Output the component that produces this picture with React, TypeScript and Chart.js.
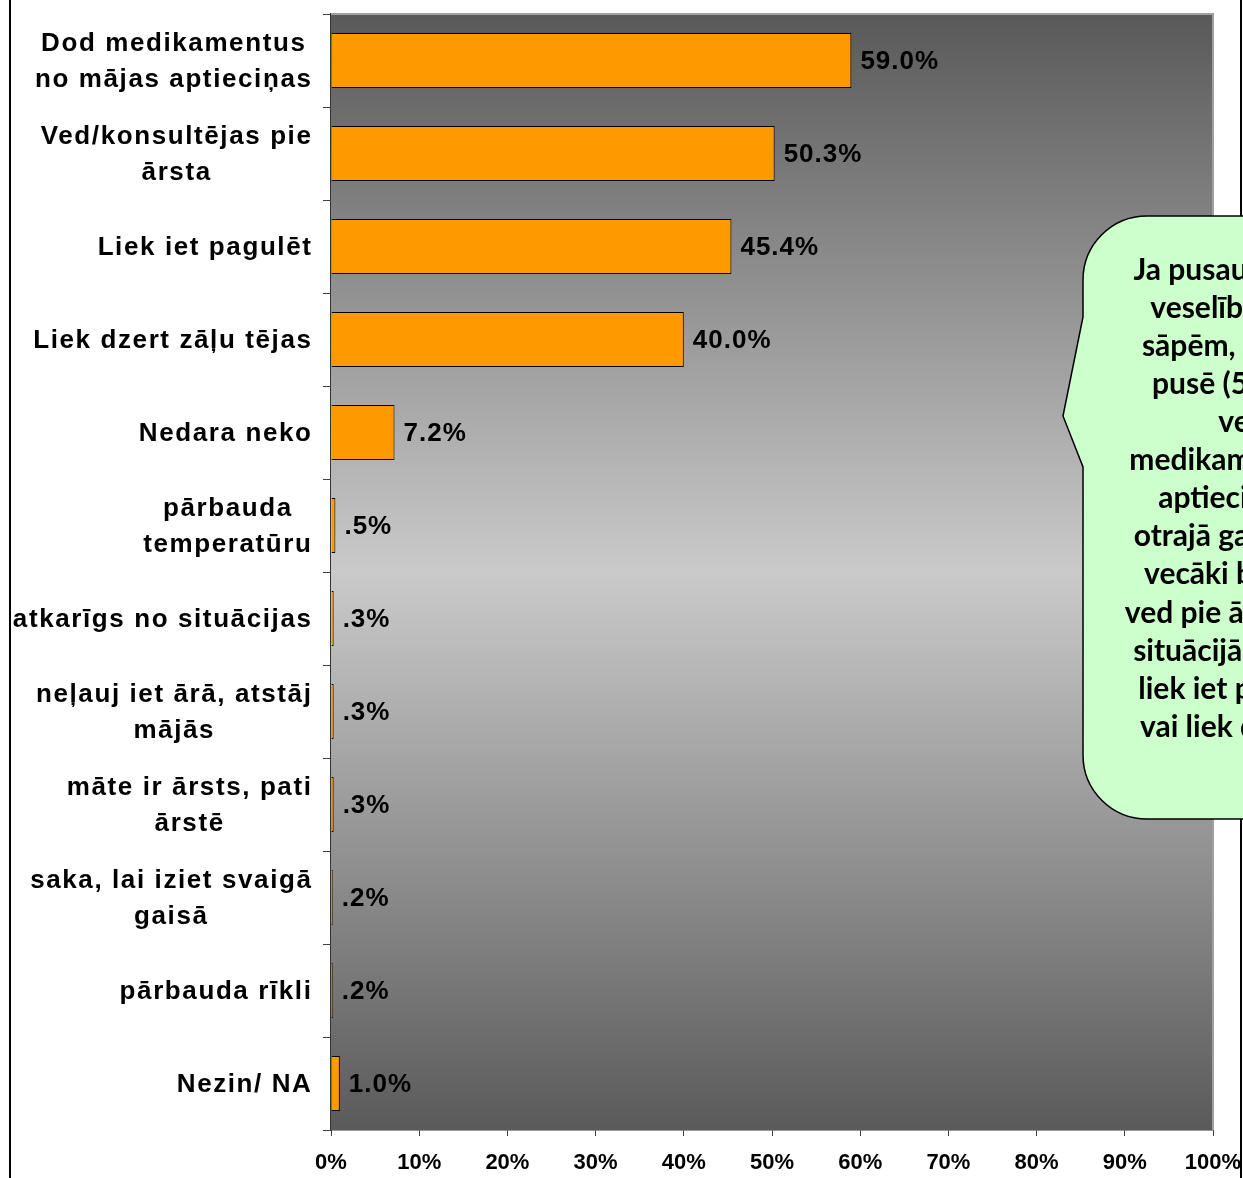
import React, { useEffect, useRef } from "react";
import { Chart, registerables } from "chart.js";

Chart.register(...registerables);

const categories: string[][] = [
  ["Dod medikamentus", "no mājas aptieciņas"],
  ["Ved/konsultējas pie", "ārsta"],
  ["Liek iet pagulēt"],
  ["Liek dzert zāļu tējas"],
  ["Nedara neko"],
  ["pārbauda", "temperatūru"],
  ["atkarīgs no situācijas"],
  ["neļauj iet ārā, atstāj", "mājās"],
  ["māte ir ārsts, pati", "ārstē"],
  ["saka, lai iziet svaigā", "gaisā"],
  ["pārbauda rīkli"],
  ["Nezin/ NA"],
];

const values: number[] = [59.0, 50.3, 45.4, 40.0, 7.2, 0.5, 0.3, 0.3, 0.3, 0.2, 0.2, 1.0];

const xTickLabels: string[] = ["0%", "10%", "20%", "30%", "40%", "50%", "60%", "70%", "80%", "90%", "100%"];

const calloutLines: string[] = [
  "Ja pusaudzis sūdzas par",
  "veselības problēmām",
  "sāpēm, tad vislielākajā",
  "pusē (59%) gadījumu",
  "vecāki dod",
  "medikamentus no mājas",
  "aptieciņas, savukārt",
  "otrajā gadījumā (50,3%)",
  "vecāki bērnu pirmkārt",
  "ved pie ārsta, bet pārējās",
  "situācijās pusaudzim arī",
  "liek iet pagulēt (45,4%)",
  "vai liek dzert zāļu tējas",
];

const LABEL_FONT = 'bold 26px "Liberation Sans", Arial, sans-serif';

const fmt = (v: number) => {
  const s = v.toFixed(1);
  return (v < 1 ? s.replace(/^0/, "") : s) + "%";
};

const bgPlugin = {
  id: "bgPlugin",
  beforeDatasetsDraw(chart: any) {
    const { ctx, chartArea: a } = chart;
    ctx.save();
    const g = ctx.createLinearGradient(0, a.top, 0, a.bottom);
    g.addColorStop(0, "#595959");
    g.addColorStop(0.5, "#cacaca");
    g.addColorStop(1, "#5a5a5a");
    ctx.fillStyle = g;
    ctx.fillRect(a.left, a.top, a.right - a.left, a.bottom - a.top);
    ctx.strokeStyle = "#a0a0a0";
    ctx.lineWidth = 2;
    ctx.beginPath();
    ctx.moveTo(a.left, a.top);
    ctx.lineTo(a.right, a.top);
    ctx.lineTo(a.right, a.bottom);
    ctx.stroke();
    ctx.restore();
  },
};

const labelPlugin = {
  id: "labelPlugin",
  afterDatasetsDraw(chart: any) {
    const { ctx } = chart;
    const yScale = chart.scales.y;
    const meta = chart.getDatasetMeta(0);
    ctx.save();
    ctx.font = LABEL_FONT;
    ctx.fillStyle = "#000";
    ctx.textBaseline = "middle";
    // category labels
    (ctx as any).letterSpacing = "1.6px";
    categories.forEach((lines, i) => {
      const cy = yScale.getPixelForValue(i);
      const lh = 36;
      const widths = lines.map((l) => ctx.measureText(l).width);
      const maxW = Math.max(...widths);
      const right = yScale.right - 18.5;
      const cx = right - maxW / 2;
      ctx.textAlign = "center";
      lines.forEach((l, j) => {
        const y = cy + (j - (lines.length - 1) / 2) * lh + 1;
        ctx.fillText(l, cx, y);
      });
    });
    // value labels
    (ctx as any).letterSpacing = "1px";
    ctx.textAlign = "left";
    meta.data.forEach((el: any, i: number) => {
      ctx.fillText(fmt(values[i]), el.x + 9, el.y + 1);
    });
    ctx.restore();
  },
};

const calloutPlugin = {
  id: "calloutPlugin",
  afterDraw(chart: any) {
    const { ctx, height } = chart;
    ctx.save();
    // outer frame lines
    ctx.strokeStyle = "#000";
    ctx.lineWidth = 2;
    ctx.beginPath();
    ctx.moveTo(10, 0);
    ctx.lineTo(10, height);
    ctx.moveTo(1241, 0);
    ctx.lineTo(1241, height);
    ctx.stroke();

    // callout bubble
    const L = 1083, T = 216, B = 819, R = L + 420, r = 64;
    ctx.beginPath();
    ctx.moveTo(L + r, T);
    ctx.lineTo(R - r, T);
    ctx.arcTo(R, T, R, T + r, r);
    ctx.lineTo(R, B - r);
    ctx.arcTo(R, B, R - r, B, r);
    ctx.lineTo(L + r, B);
    ctx.arcTo(L, B, L, B - r, r);
    ctx.lineTo(L, 467);
    ctx.lineTo(1063, 416);
    ctx.lineTo(L, 317);
    ctx.lineTo(L, T + r);
    ctx.arcTo(L, T, L + r, T, r);
    ctx.closePath();
    ctx.fillStyle = "#CCFFCC";
    ctx.fill();
    ctx.lineWidth = 1.5;
    ctx.strokeStyle = "#000";
    ctx.stroke();

    ctx.fillStyle = "#000";
    ctx.font = 'bold 30px Lato, "Open Sans", sans-serif';
    ctx.textAlign = "center";
    ctx.textBaseline = "middle";
    const cx = 1290;
    calloutLines.forEach((l, i) => {
      ctx.fillText(l, cx, 270 + i * 38.1);
    });
    ctx.restore();
  },
};

export default function App() {
  const ref = useRef<HTMLCanvasElement>(null);
  useEffect(() => {
    const canvas = ref.current!;
    const chart = new Chart(canvas, {
      type: "bar",
      data: {
        labels: categories,
        datasets: [
          {
            data: values,
            backgroundColor: "#FF9900",
            borderColor: "#000",
            borderWidth: 1,
            barPercentage: 0.59,
            categoryPercentage: 1,
          },
        ],
      },
      options: {
        indexAxis: "y",
        responsive: false,
        animation: false,
        devicePixelRatio: 1,
        layout: { padding: { top: 14, right: 30, left: 0, bottom: 0 } },
        plugins: { legend: { display: false }, tooltip: { enabled: false } },
        scales: {
          x: {
            min: 0,
            max: 100,
            ticks: {
              stepSize: 10,
              callback: (_v: any, i: number) => xTickLabels[i],
              font: { family: '"Liberation Sans", Arial, sans-serif', size: 22, weight: "bold" },
              color: "#000",
              padding: 14,
              maxRotation: 0,
              autoSkip: false,
            },
            grid: { drawOnChartArea: false, drawTicks: true, tickLength: 6, color: "#404040" },
            border: { display: true, color: "#333", width: 1.5 },
            afterFit: (s: any) => {
              s.height = 48;
              s.paddingLeft = 0;
              s.paddingRight = 0;
            },
          },
          y: {
            ticks: { display: false },
            grid: { drawOnChartArea: false, drawTicks: true, tickLength: 8, color: "#404040", offset: true },
            border: { display: true, color: "#333", width: 1.5 },
            afterFit: (s: any) => {
              s.width = 331;
              s.paddingTop = 0;
              s.paddingBottom = 0;
            },
          },
        },
      } as any,
      plugins: [bgPlugin, labelPlugin, calloutPlugin],
    });
    return () => chart.destroy();
  }, []);
  return (
    <div style={{ position: "absolute", left: 0, top: 0, width: 1243, height: 1178, background: "#fff", overflow: "hidden" }}>
      <canvas ref={ref} width={1243} height={1178} style={{ display: "block", width: 1243, height: 1178 }} />
    </div>
  );
}
